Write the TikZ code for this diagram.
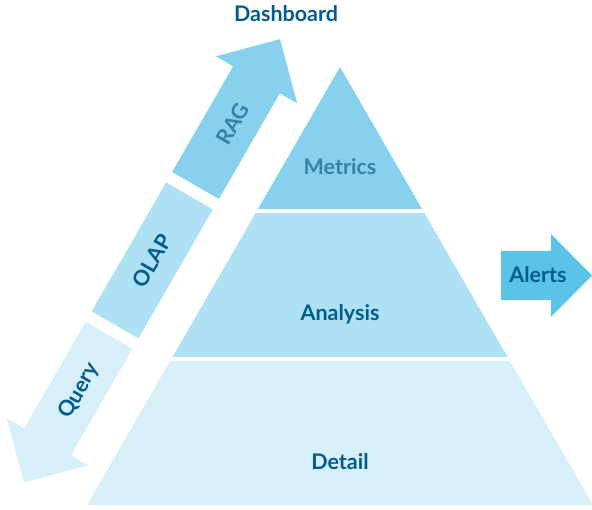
\documentclass[tikz,border=0pt]{standalone}
\usepackage{fontspec}
\setmainfont{Lato}
\usetikzlibrary{calc}
\definecolor{cTop}{HTML}{87D1EE}
\definecolor{cMid}{HTML}{AEE1F4}
\definecolor{cLow}{HTML}{D6EFF9}
\definecolor{cAlert}{HTML}{5BC3E8}
\definecolor{cText}{HTML}{005B8E}
\definecolor{cTextLight}{HTML}{3781A8}
\tikzset{
  lbl/.style={font=\fontsize{21.5}{25}\selectfont\bfseries, text=cText, inner sep=0pt, anchor=base},
  sep/.style={draw=white, line width=4pt}
}
\begin{document}
\begin{tikzpicture}[x=1pt,y=1pt]
\useasboundingbox (0,0) rectangle (592,510);
% pyramid
\coordinate (A) at (340,443);
\coordinate (BL) at (87,5);
\coordinate (BR) at (593,5);
\coordinate (L1) at ($(A)!0.3288!(BL)$);
\coordinate (R1) at ($(A)!0.3288!(BR)$);
\coordinate (L2) at ($(A)!0.6667!(BL)$);
\coordinate (R2) at ($(A)!0.6667!(BR)$);
\fill[cTop] (A) -- (L1) -- (R1) -- cycle;
\fill[cMid] (L1) -- (L2) -- (R2) -- (R1) -- cycle;
\fill[cLow] (L2) -- (BL) -- (BR) -- (R2) -- cycle;
\draw[sep] ($(L1)+(-5,0)$) -- ($(R1)+(5,0)$);
\draw[sep] ($(L2)+(-5,0)$) -- ($(R2)+(5,0)$);
\node[lbl, text=cTextLight] (metrics) at (340,335.5) {Metrics};
\node[lbl] (analysis) at (340,189) {Analysis};
\node[lbl] (detail) at (340,40) {Detail};
% left arrows
\begin{scope}[shift={(195.5,324.5)}, rotate=60]
  \fill[cTop] (0,-27) -- (122,-27) -- (122,-47) -- (169,0) -- (122,47) -- (122,27) -- (0,27) -- cycle;
  \fill[cMid] (-161,-27) rectangle (-12,27);
  \fill[cLow] (-173,-27) -- (-296,-27) -- (-296,-47) -- (-343,0) -- (-296,47) -- (-296,27) -- (-173,27) -- cycle;
  \node[lbl, anchor=center, rotate=60, text=cTextLight] (rag) at (72,-1) {RAG};
  \node[lbl, anchor=center, rotate=60] (olap) at (-87,0) {OLAP};
  \node[lbl, anchor=center, rotate=60] (query) at (-236,-2) {Query};
\end{scope}
\node[lbl] (dashboard) at (286,488.5) {Dashboard};
% alerts arrow
\fill[cAlert] (501,210) -- (551,210) -- (551,193) -- (592,234.5) -- (551,276) -- (551,259) -- (501,259) -- cycle;
\node[lbl] (alerts) at (538,227.5) {Alerts};
\end{tikzpicture}
\end{document}
